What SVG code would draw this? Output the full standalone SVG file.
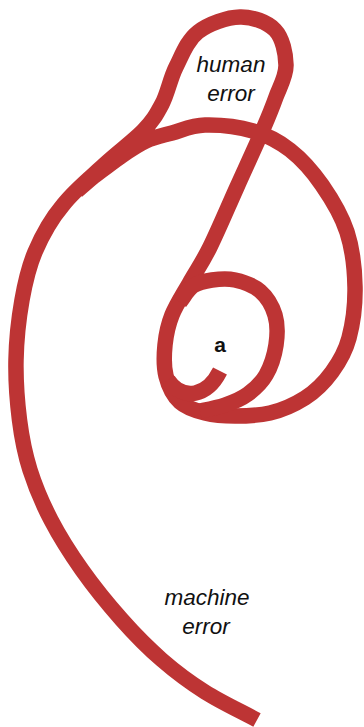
<svg xmlns="http://www.w3.org/2000/svg" width="364" height="727" viewBox="0 0 364 727">
<style>
.rope{fill:none;stroke:#bd3434;stroke-width:15.5;stroke-linecap:butt;stroke-linejoin:round}
.lbl{font-family:"Liberation Sans",Arial,sans-serif;font-style:italic;font-size:22.5px;fill:#111;text-anchor:middle}
.a{font-family:"Liberation Sans",Arial,sans-serif;font-weight:bold;font-size:21px;fill:#111;text-anchor:middle}
</style>
<rect width="364" height="727" fill="#fff"/>
<g id="connectors">
<path class="rope" d="M257,720 C239.7,710.7 220.8,702 205,692 C189.2,682 175.8,672 162,660 C148.2,648 135.3,635 122,620 C108.7,605 93.8,586.7 82,570 C70.2,553.3 59.7,536.7 51,520 C42.3,503.3 35.3,486.7 30,470 C24.75,453.3 21.8,438.3 19.5,420 C17.2,401.7 15.6,380 16,360 C16.4,340 18.8,318 22,300 C25.2,282 28.3,267.8 35,252 C41.7,236.2 50.8,219.5 63,205 C74.2,190.5 90.7,177.3 104,165 C117.3,152.7 133,141.2 143,131 C153,120.8 156.3,114.7 162,104 C167.7,93.3 170,79 176,67 C182,55 187.3,40.3 198,32 C208.7,23.7 227.2,17.3 240,17 C252.8,16.7 267.3,22 275,30 C282.7,38 285.8,53.8 286,65 C286.2,76.2 279.7,86.7 276,97 C272.3,107.3 270.5,112 264,127 C257.5,142 246,167 237,187 C228,207 217.8,231.2 210,247 C202.2,262.8 196.3,270.7 190,282 C183.7,293.3 176.2,304.5 172,315 C167.8,325.5 166,335 165,345 C164,355 163.5,366 166,376 C168.5,386 173.5,396 180,402 C186.5,408 195.8,410.7 205,413 C214.2,415.3 224.2,416 235,416 C245.8,416 258.3,415.7 270,413 C281.7,410.3 294.7,404.5 305,398 C315.3,391.5 324.7,382 332,372 C339.3,362 345.2,352.2 349,338 C352.8,323.8 355.3,304.7 355,287 C354.7,269.3 352.5,249 347,232 C341.5,215 331.5,198.7 322,185 C312.5,171.3 301.5,159 290,150 C278.5,141 267.2,135.2 253,131 C238.8,126.8 218.5,124.7 205,125 C191.5,125.3 181.8,130.3 172,133 C162.2,135.7 154.7,137 146,141 C137.3,145 129,150.8 120,157 C111,163.2 101.3,171 92,178 L77,191"/>
<path class="rope" d="M180,302 C184.3,296.7 187.7,289.7 193,286 C198.3,282.3 205,281 212,280 C219,279 227,278.2 235,280 C243,281.8 253.3,285.2 260,291 C266.7,296.8 272.3,306 275,315 C277.7,324 277.5,335 276,345 C274.5,355 270.7,366.8 266,375 C261.3,383.2 254.8,389 248,394 C241.2,399 233,402.3 225,405 C217,407.7 208.3,409.3 200,411"/>
<path class="rope" d="M220,371 C214,383 206,391 195,393 C184,395 174,389 168,380"/>
</g>
<g id="human-error"><text class="lbl" x="231" y="72">human</text><text class="lbl" x="231" y="101">error</text></g>
<g id="a"><text class="a" x="220" y="352">a</text></g>
<g id="machine-error"><text class="lbl" x="207" y="605">machine</text><text class="lbl" x="206" y="634">error</text></g>
</svg>
